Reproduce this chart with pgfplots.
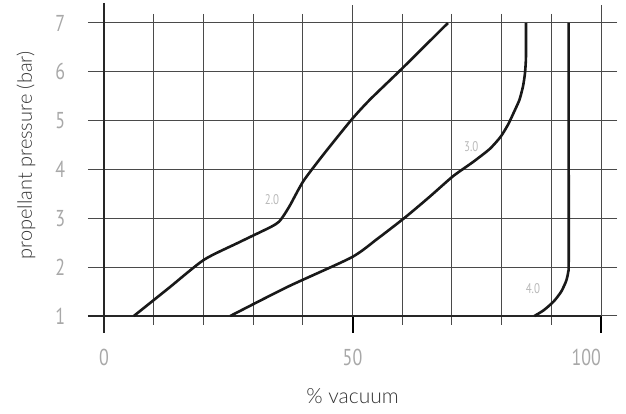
\documentclass[border=0pt]{standalone}
\usepackage{pgfplots}
\pgfplotsset{compat=1.18}
\usepackage{fontspec}
\setmainfont{Lato}[UprightFont=* Light]
\newfontfamily\tickfont{PT Sans}[FakeStretch=0.78]
\definecolor{gridc}{HTML}{4A4A4A}
\definecolor{tickc}{HTML}{A8A8A8}
\definecolor{labc}{HTML}{333333}
\begin{document}
\begin{tikzpicture}[x=1pt,y=1pt]
\path[use as bounding box] (-104,-98) rectangle (522,316);
\begin{axis}[at={(0,0)}, anchor=south west, scale only axis,
  width=497pt, height=293pt,
  xmin=0, xmax=100, ymin=1, ymax=7,
  clip=false,
  /pgf/number format/assume math mode=true,
  axis line style={draw=none},
  xtick={0,10,...,100}, ytick={1,2,...,7},
  xticklabels={0,,,,,50,,,,,\llap{100}},
  yticklabels={},
  grid=major,
  major grid style={gridc, line width=1pt},
  tick align=outside,
  xtick style={gridc, line width=1pt, /pgfplots/major tick length=9pt},
  ytick style={gridc, line width=1pt, /pgfplots/major tick length=16pt},
  xticklabel style={font=\tickfont\fontsize{23}{25}\selectfont, text=tickc, yshift=-25pt},
  xlabel={\% vacuum},
  ylabel={propellant pressure (bar)},
  xlabel style={font=\fontsize{21}{24}\selectfont, text=labc, at={(axis description cs:0.5,0)}, anchor=center, yshift=-80pt},
  ylabel style={font=\fontsize{20}{23}\selectfont, text=labc, at={(axis description cs:0,0.5)}, anchor=center, yshift=78pt, xshift=14pt},
]
% y tick labels
\pgfplotsinvokeforeach{1,...,7}{
  \node[anchor=east, inner sep=0pt, font=\tickfont\fontsize{23}{25}\selectfont, text=tickc] at (axis cs:-7.8,#1) {#1};
}
% extensions of axis and grid lines
\draw[gridc, line width=1pt] (axis cs:50,7) -- (axis cs:50,7.37);
\draw[gridc, line width=1pt] (axis cs:100,7) -- (axis cs:100,7.37);
\draw[black, line width=2pt] (axis cs:50,1) -- (axis cs:50,0.65);
\draw[black, line width=2pt] (axis cs:100,1) -- (axis cs:100,0.65);
\draw[black!85, line width=2.8pt] (axis cs:0,7.41) -- (axis cs:0,0.66);
\draw[black!85, line width=2.8pt] (axis cs:-3.2,1) -- (axis cs:100,1);
% curves
\addplot[black!90, line width=2.6pt, smooth, tension=0.4] coordinates {
 (6,1) (13,1.57) (20.1,2.15) (27,2.5) (33.5,2.82) (35.2,2.93) (36.3,3.08)
 (37.5,3.28) (40.1,3.76) (44.1,4.3) (49.8,5.02) (53.5,5.43) (59.9,6.06) (69.2,7)};
\addplot[black!90, line width=2.6pt, smooth, tension=0.4] coordinates {
 (25.4,1) (37,1.6) (49.8,2.2) (55,2.58) (60.6,3.02) (65.5,3.44) (70.2,3.86)
 (74.2,4.15) (77.6,4.42) (79.8,4.67) (81.3,4.92) (82.6,5.2) (83.6,5.43)
 (84.3,5.7) (84.7,5.97) (84.9,6.3) (84.9,7)};
\addplot[black!90, line width=2.6pt, smooth, tension=0.4] coordinates {
 (86.6,1) (88.5,1.12) (90.5,1.3) (92,1.5) (93,1.72) (93.4,1.9) (93.5,2.1) (93.5,4) (93.5,7)};
% curve labels
\node[font=\tickfont\fontsize{14}{15}\selectfont, text=tickc!80] at (axis cs:33.8,3.38) {2.0};
\node[font=\tickfont\fontsize{14}{15}\selectfont, text=tickc!80] at (axis cs:73.9,4.47) {3.0};
\node[font=\tickfont\fontsize{14}{15}\selectfont, text=tickc!80] at (axis cs:86.3,1.57) {4.0};
\end{axis}
\end{tikzpicture}
\end{document}
